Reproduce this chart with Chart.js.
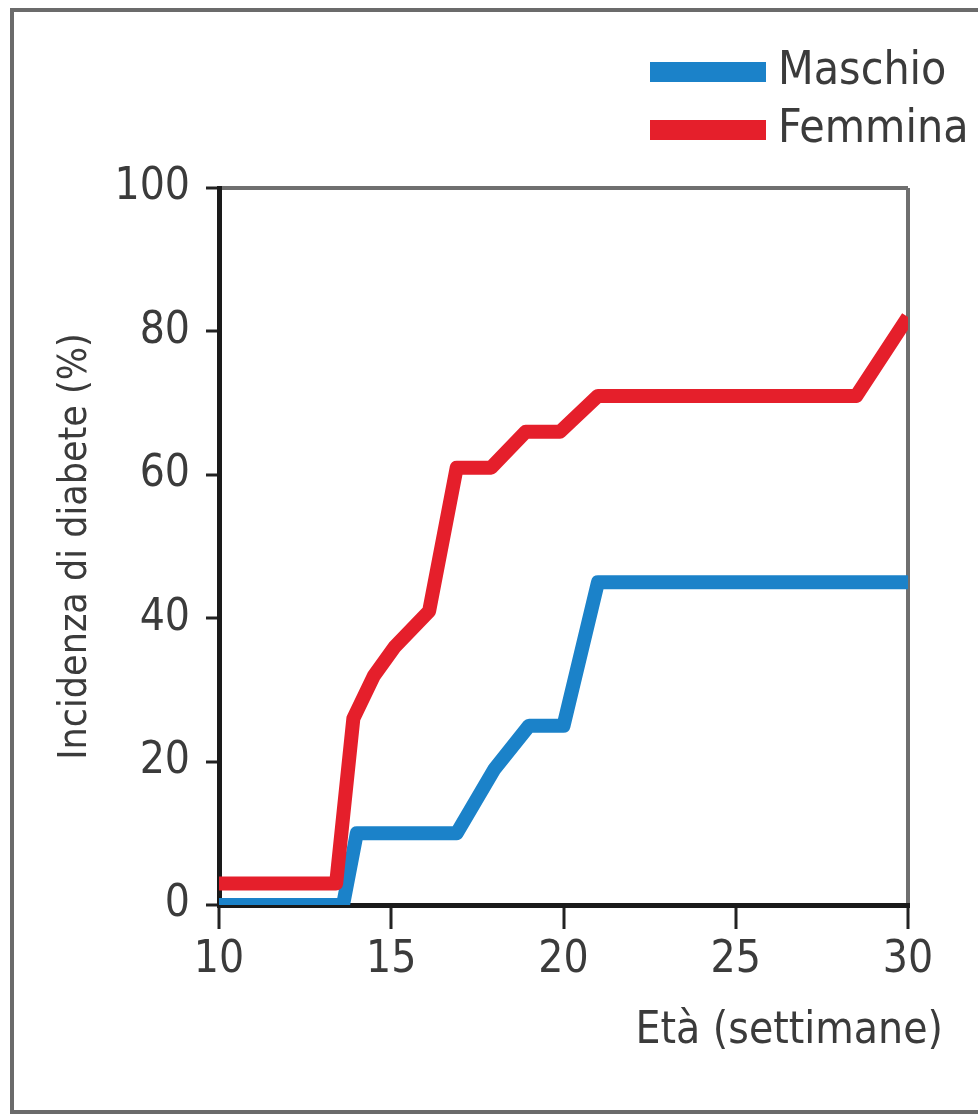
<!DOCTYPE html>
<html>
<head>
<meta charset="utf-8">
<script src="https://cdn.jsdelivr.net/npm/chart.js@4.4.0/dist/chart.umd.min.js"></script>
<style>
  html, body { margin: 0; padding: 0; background: #fff; overflow: hidden; }
  #wrap { position: relative; width: 978px; height: 1114px; }
  #frame { position: absolute; left: 10px; top: 8px; width: 1010px; height: 1106px;
           border: 4px solid #6b6b6b; box-sizing: border-box; }
  #chart { position: absolute; left: 0; top: 0; }
</style>
</head>
<body>
<div id="wrap">
  <div id="frame"></div>
  <canvas id="chart" width="978" height="1114"></canvas>
</div>
<script>
// values
const seriesLabels = ['Maschio', 'Femmina'];
const maleWeeks = [10, 13.6, 14.0, 16.9, 18.0, 19.0, 20.0, 21.0, 30];
const maleIncidence = [0, 0, 10, 10, 19, 25, 25, 45, 45];
const femaleWeeks = [10, 13.4, 13.9, 14.5, 15.1, 16.1, 16.9, 17.9, 18.9, 19.9, 21.0, 28.5, 30];
const femaleIncidence = [3, 3, 26, 32, 36, 41, 61, 61, 66, 66, 71, 71, 82];
const xTicks = [10, 15, 20, 25, 30];
const yTicks = [0, 20, 40, 60, 80, 100];
const xTitle = 'Età (settimane)';
const yTitle = 'Incidenza di diabete (%)';

const BLUE = '#1b82c9';
const RED = '#e51f2b';
const TEXT = '#3b3b3b';
const FONT = "'DejaVu Sans Condensed', 'Liberation Sans Narrow', sans-serif";

const toPoints = (xs, ys) => xs.map((x, i) => ({ x, y: ys[i] }));

// legend + x title, drawn on top of the chart
const overlay = {
  id: 'overlay',
  afterDraw(chart) {
    const ctx = chart.ctx;
    ctx.save();
    ctx.textBaseline = 'middle';
    ctx.font = `46px ${FONT}`;
    chart.data.datasets.forEach((ds, i) => {
      const y = 72 + i * 58;
      ctx.fillStyle = ds.borderColor;
      ctx.fillRect(650, y - 10, 116, 20);
      ctx.fillStyle = TEXT;
      ctx.textAlign = 'left';
      ctx.fillText(ds.label, 778, y);
    });
    ctx.font = `44px ${FONT}`;
    ctx.textAlign = 'right';
    ctx.textBaseline = 'alphabetic';
    ctx.fillText(xTitle, 943, 1043);
    ctx.restore();
  }
};

new Chart(document.getElementById('chart'), {
  type: 'scatter',
  data: {
    datasets: [
      {
        label: seriesLabels[0],
        data: toPoints(maleWeeks, maleIncidence),
        showLine: true,
        borderColor: BLUE,
        backgroundColor: BLUE,
        borderWidth: 14,
        borderJoinStyle: 'round',
        pointRadius: 0,
        order: 1,
      },
      {
        label: seriesLabels[1],
        data: toPoints(femaleWeeks, femaleIncidence),
        showLine: true,
        borderColor: RED,
        backgroundColor: RED,
        borderWidth: 14,
        borderJoinStyle: 'round',
        pointRadius: 0,
        order: 0,
      },
    ],
  },
  options: {
    responsive: false,
    devicePixelRatio: 1,
    animation: false,
    layout: { padding: { top: 188, right: 70, bottom: 0, left: 0 } },
    plugins: {
      legend: { display: false },
      tooltip: { enabled: false },
    },
    scales: {
      x: {
        type: 'linear',
        min: 10,
        max: 30,
        afterFit: (scale) => { scale.height = 209; },
        afterBuildTicks: (scale) => { scale.ticks = xTicks.map(v => ({ value: v })); },
        border: { color: '#1a1a1a', width: 5 },
        grid: {
          drawOnChartArea: true,
          color: (c) => (c.tick && c.tick.value === 30 ? '#6f6f6f' : 'rgba(0,0,0,0)'),
          lineWidth: 4,
          tickColor: '#222',
          tickWidth: 3,
          tickLength: 24,
        },
        ticks: {
          color: TEXT,
          padding: 5,
          maxRotation: 0,
          font: { family: FONT, size: 44 },
        },
      },
      y: {
        min: 0,
        max: 100,
        afterFit: (scale) => { scale.width = 219; },
        afterBuildTicks: (scale) => { scale.ticks = yTicks.map(v => ({ value: v })); },
        border: { color: '#1a1a1a', width: 5 },
        grid: {
          drawOnChartArea: true,
          color: (c) => (c.tick && c.tick.value === 100 ? '#6f6f6f' : 'rgba(0,0,0,0)'),
          lineWidth: 4,
          tickColor: '#222',
          tickWidth: 3,
          tickLength: 13,
        },
        ticks: {
          color: TEXT,
          padding: 16,
          font: { family: FONT, size: 44 },
        },
        title: {
          display: true,
          text: yTitle,
          color: TEXT,
          padding: { top: 52, bottom: 0 },
          font: { family: FONT, size: 39 },
        },
      },
    },
  },
  plugins: [overlay],
});
</script>
</body>
</html>
